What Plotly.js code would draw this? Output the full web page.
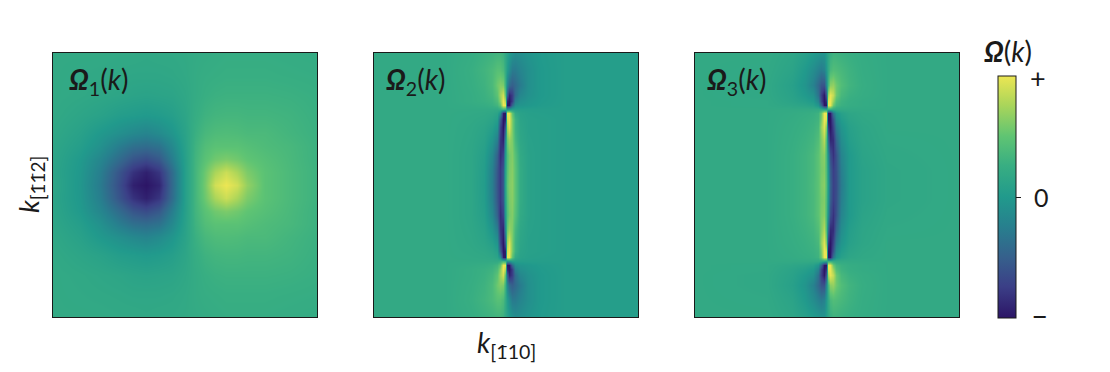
<!DOCTYPE html>
<html>
<head>
<meta charset="utf-8">
<script src="https://cdn.plot.ly/plotly-3.0.1.min.js"></script>
<style>html,body{margin:0;padding:0;background:#fff}#c{width:1110px;height:372px}</style>
</head>
<body>
<div id="c"></div>
<script>
// Panel 1: momentum coordinates and Berry curvature
const x1 = [-132,-105,-85,-65,-52,-39,-26,-13,0,10,20,30,41,52,62,80,105,132];
const y1 = [-132,-110,-90,-70,-52,-39,-26,-13,0,13,26,39,52,70,90,110,132];
const a0 = [.15,-.03,-.28,-.65,-.93,-1,-.90,-.42,.06,.33,.58,.90,1,.90,.68,.47,.38,.30];
const a1 = [.13,-.02,-.25,-.60,-.82,-.93,-.80,-.40,.06,.33,.55,.76,.88,.76,.60,.47,.38,.30];
const a2 = [.14,.00,-.18,-.42,-.58,-.65,-.55,-.26,.07,.32,.47,.56,.60,.56,.50,.44,.37,.29];
const a3 = [.15,.05,-.08,-.27,-.37,-.40,-.35,-.16,.09,.30,.42,.47,.47,.47,.44,.40,.36,.29];
const a4 = [.17,.09,-.01,-.10,-.16,-.20,-.14,-.04,.11,.27,.36,.40,.41,.40,.38,.38,.33,.28];
const a5 = [.19,.14,.10,.04,.02,.00,.02,.06,.14,.24,.30,.33,.34,.34,.33,.33,.31,.27];
const a6 = [.20,.18,.16,.14,.12,.11,.12,.13,.17,.22,.26,.28,.29,.29,.29,.29,.28,.26];
const a7 = [.20,.19,.18,.17,.16,.16,.16,.17,.19,.22,.24,.25,.26,.26,.26,.26,.25,.24];
const a8 = [.20,.20,.20,.19,.19,.18,.19,.19,.20,.21,.22,.23,.24,.24,.24,.24,.23,.22];
const z1 = [a8,a7,a6,a5,a4,a3,a2,a1,a0,a1,a2,a3,a4,a5,a6,a7,a8];

// Panels 2 and 3: grid is dense near the two sharp nodes
const xFine = [-132,-60,-35,-22,-14,-9,-6,-3,-1,1,3,6,9,14,22,35,60,132];
const yFine = [-132,-115,-100,-90,-84,-80,-76,-72,-66,-58,-45,-30,-15,0,15,30,45,58,66,72,76,80,84,90,100,115,132];

const b0 = [.2,.2,.24,.28,.30,.32,.32,.28,.18,.10,.02,-.06,-.12,-.10,-.05,.01,.05,.05];
const b1 = [.2,.2,.26,.32,.38,.45,.45,.38,.22,.02,-.12,-.28,-.28,-.20,-.10,.00,.05,.05];
const b2 = [.2,.2,.25,.30,.38,.55,.62,.60,.30,-.20,-.42,-.50,-.42,-.28,-.10,.00,.05,.05];
const b3 = [.2,.2,.24,.28,.34,.48,.72,.90,.50,-.50,-.90,-.75,-.40,-.18,-.08,.00,.05,.05];
const b4 = [.2,.2,.24,.27,.30,.40,.65,1,.80,-.90,-1,-.75,-.25,-.10,-.04,.01,.05,.05];
const b5 = [.2,.2,.22,.24,.27,.33,.50,1,1,-1,-1,-.45,-.12,-.05,-.02,.02,.05,.05];
const b6 = [.2,.2,.20,.20,.20,.20,.25,.35,.30,-.10,-.05,.05,.05,.05,.05,.05,.05,.05];
const b7 = [.2,.2,.19,.18,.16,.12,-.10,-.95,-1,1,1,.50,.20,.10,.07,.06,.05,.05];
const b8 = [.2,.2,.18,.16,.12,.05,-.50,-1,-.95,.90,1,.60,.30,.12,.08,.07,.05,.05];
const b9 = [.2,.2,.17,.13,.06,-.05,-.70,-1,-.60,.75,.95,.60,.30,.14,.08,.07,.05,.05];
const b10 = [.2,.2,.16,.10,-.04,-.25,-.80,-.92,-.20,.55,.70,.60,.35,.16,.09,.07,.05,.05];
const b11 = [.2,.2,.15,.06,-.16,-.48,-.85,-.72,.00,.42,.58,.62,.45,.20,.10,.07,.05,.05];
const b12 = [.2,.2,.15,.04,-.23,-.56,-.78,-.58,.08,.45,.60,.64,.48,.22,.10,.07,.05,.05];
const b13 = [.2,.2,.15,.03,-.25,-.58,-.78,-.55,.10,.50,.62,.65,.48,.22,.10,.07,.05,.05];
const z2 = [b0,b1,b2,b3,b4,b5,b6,b7,b8,b9,b10,b11,b12,b13,b12,b11,b10,b9,b8,b7,b6,b5,b4,b3,b2,b1,b0];

const c0 = [.2,.2,.15,.08,.02,-.02,-.05,-.05,.05,.15,.25,.30,.30,.28,.26,.23,.2,.2];
const c1 = [.2,.19,.12,.00,-.12,-.22,-.28,-.22,-.03,.20,.36,.42,.40,.36,.30,.24,.2,.2];
const c2 = [.2,.18,.08,-.05,-.22,-.42,-.58,-.60,-.20,.35,.65,.68,.55,.42,.32,.25,.2,.2];
const c3 = [.2,.18,.10,.00,-.08,-.35,-.75,-.98,-.60,.75,.98,.85,.55,.36,.28,.24,.2,.2];
const c4 = [.2,.19,.12,.06,.00,-.20,-.70,-1,-.85,.95,1,.70,.42,.30,.25,.22,.2,.2];
const c5 = [.2,.19,.15,.12,.08,-.05,-.45,-1,-1,1,1,.55,.35,.28,.24,.22,.2,.2];
const c6 = [.2,.2,.20,.20,.20,.20,.18,.12,.08,.28,.28,.22,.20,.20,.20,.20,.2,.2];
const c7 = [.2,.2,.22,.24,.26,.30,.55,1,1,-1,-1,-.35,-.05,.08,.15,.18,.2,.2];
const c8 = [.2,.2,.23,.26,.28,.32,.60,1,.95,-1,-1,-.60,-.15,.02,.12,.17,.2,.2];
const c9 = [.2,.2,.24,.27,.30,.36,.70,.95,.65,-.80,-1,-.72,-.28,-.05,.08,.15,.2,.2];
const c10 = [.2,.2,.25,.29,.33,.42,.62,.80,.45,-.45,-.88,-.85,-.45,-.12,.05,.14,.19,.2];
const c11 = [.2,.2,.26,.31,.37,.48,.60,.65,.40,-.15,-.62,-.82,-.60,-.20,.00,.12,.18,.2];
const c12 = [.2,.2,.26,.31,.37,.48,.58,.62,.42,-.05,-.50,-.74,-.62,-.25,.00,.10,.17,.2];
const c13 = [.2,.2,.26,.31,.38,.48,.60,.65,.45,.00,-.46,-.72,-.64,-.28,.00,.10,.17,.2];
const z3 = [c0,c1,c2,c3,c4,c5,c6,c7,c8,c9,c10,c11,c12,c13,c12,c11,c10,c9,c8,c7,c6,c5,c4,c3,c2,c1,c0];

const panelLabels = ['1','2','3'];
const barTickVals = [0];
const barTickText = [''];

const W = 1110, H = 372, FONT = 'Lato, sans-serif', INK = '#1a1a1a';
const scale = [[0,'#2c1566'],[.13,'#3b3f87'],[.25,'#36608c'],[.38,'#27808e'],[.5,'#219a8c'],[.63,'#38ae82'],[.75,'#5fc473'],[.88,'#aad55a'],[1,'#ece653']];
const base = {type:'heatmap', zmin:-1, zmax:1, zsmooth:'best', colorscale:scale, hoverinfo:'skip'};

const traces = [
  Object.assign({}, base, {x:x1, y:y1, z:z1, xaxis:'x', yaxis:'y', showscale:false}),
  Object.assign({}, base, {x:xFine, y:yFine, z:z2, xaxis:'x2', yaxis:'y2', showscale:false}),
  Object.assign({}, base, {x:xFine, y:yFine, z:z3, xaxis:'x3', yaxis:'y3', showscale:true,
    colorbar:{x:998/W, xanchor:'left', xpad:0, y:1-197/H, yanchor:'middle', ypad:0,
      thickness:18, thicknessmode:'pixels', len:242, lenmode:'pixels',
      outlinewidth:1, outlinecolor:INK, tickmode:'array', tickvals:barTickVals, ticktext:barTickText,
      ticks:'outside', ticklen:5, tickwidth:1, tickcolor:INK,
      tickfont:{family:FONT, size:23, color:INK}}})
];

function ax(lo, hi, anchor, isX){
  return {domain:isX?[lo/W,hi/W]:[1-hi/H,1-lo/H], range:[-132,132], anchor:anchor,
    showticklabels:false, ticks:'', showgrid:false, zeroline:false,
    showline:true, mirror:true, linecolor:INK, linewidth:1, fixedrange:true};
}
const sub = (s) => '<sub>'+s+'</sub>';
const layout = {
  width:W, height:H, margin:{l:0,r:0,t:0,b:0}, paper_bgcolor:'#fff', plot_bgcolor:'#fff', showlegend:false,
  font:{family:FONT, color:INK},
  xaxis:ax(53,317,'y',true),
  yaxis:ax(53,317,'x',false),
  xaxis2:ax(374,638,'y2',true),
  yaxis2:ax(53,317,'x2',false),
  xaxis3:ax(695,959,'y3',true),
  yaxis3:ax(53,317,'x3',false),
  annotations:[]
};
const px = (x,y,text,size,extra) => Object.assign({xref:'paper', yref:'paper', x:x/W, y:1-y/H, text:text, showarrow:false,
  xanchor:'center', yanchor:'middle', font:{family:FONT, size:size, color:INK}}, extra||{});

const panelX = [98.5,415,736];
panelLabels.forEach((n,i)=>{
  layout.annotations.push(px(panelX[i],81,'<b><i>Ω</i></b>'+sub(n)+'(<i>k</i>)',28));
});
layout.annotations.push(px(1008,51,'<b><i>Ω</i></b>(<i>k</i>)',28));
layout.annotations.push(px(1038,77,'+',27));
layout.annotations.push(px(1041,197,'0',25));
layout.annotations.push(px(1039,314,'–',30));
layout.annotations.push(px(506,344,'<i>k</i>'+sub('[1̄10]'),28));
layout.annotations.push(px(30,185,'<i>k</i>'+sub('[1̄1̄2]'),27,{textangle:-90}));

Plotly.newPlot('c', traces, layout, {displayModeBar:false, staticPlot:true});
</script>
</body>
</html>
